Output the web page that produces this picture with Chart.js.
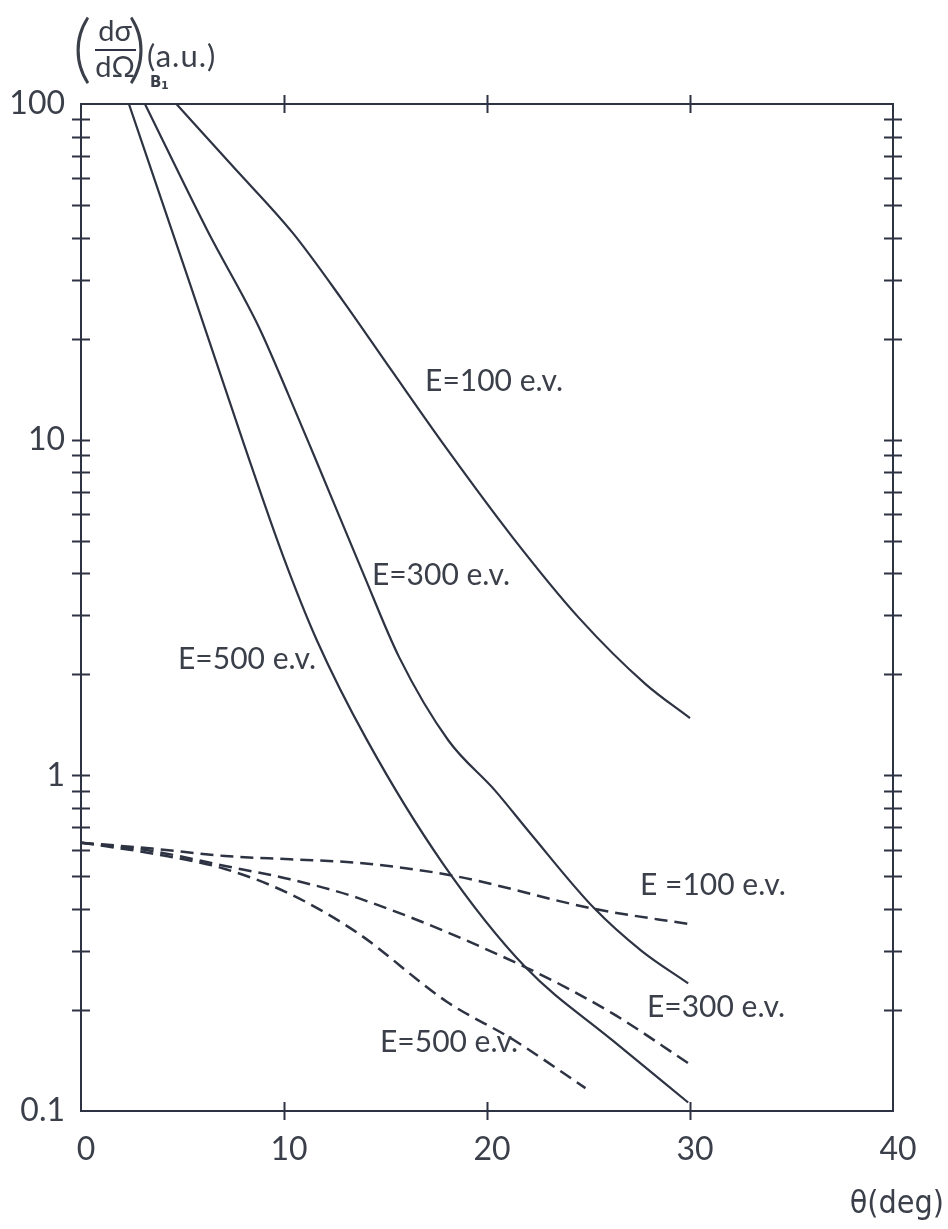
<!DOCTYPE html>
<html>
<head>
<meta charset="utf-8">
<script src="https://cdn.jsdelivr.net/npm/chart.js@4/dist/chart.umd.min.js"></script>
<style>
  html, body { margin: 0; padding: 0; background: #ffffff; }
  #wrap { width: 948px; height: 1229px; }
  canvas { display: block; }
</style>
</head>
<body>
<div id="wrap"><canvas id="chart" width="948" height="1229"></canvas></div>
<script>
// Scattering angle (deg) and cross section (a.u.) for each curve
const solid100Theta = [4.7, 7.5, 10.43, 12.87, 15.29, 17.97, 21.28, 24.54, 27.81, 30.0];
const solid100Value = [100, 65.0, 41.3, 26.1, 16.1, 9.48, 5.10, 2.94, 1.87, 1.48];

const solid300Theta = [3.15, 6.25, 8.77, 10.22, 11.47, 13.89, 15.67, 18.1, 20.39, 22.14, 25.26, 27.61, 29.91];
const solid300Value = [100, 41.7, 21.6, 13.6, 9.0, 4.01, 2.25, 1.27, 0.902, 0.671, 0.403, 0.300, 0.240];

const solid500Theta = [2.36, 5.29, 8.03, 9.96, 11.6, 14.07, 17.81, 21.9, 26.2, 29.91];
const solid500Value = [100, 30.1, 9.68, 4.49, 2.54, 1.28, 0.548, 0.268, 0.162, 0.106];

const dashed100Theta = [0, 3.5, 7.1, 10.3, 13.6, 18.2, 25.3, 30.0];
const dashed100Value = [0.63, 0.605, 0.575, 0.562, 0.549, 0.504, 0.40, 0.36];

const dashed300Theta = [0, 3.5, 7.1, 10.3, 13.6, 21.9, 26.2, 29.9];
const dashed300Value = [0.63, 0.595, 0.537, 0.490, 0.432, 0.268, 0.195, 0.139];

const dashed500Theta = [0, 3.5, 7.1, 10.3, 13.6, 18.0, 21.3, 24.85];
const dashed500Value = [0.63, 0.585, 0.526, 0.443, 0.340, 0.212, 0.163, 0.117];

// Axis ticks
const xTickValues = [0, 10, 20, 30, 40];
const xTickLabels = ['0', '10', '20', '30', '40'];
const xMarkValues = [10, 20, 30];
const yMajorValues = [0.1, 1, 10, 100];
const yMajorLabels = ['0.1', '1', '10', '100'];
const yMarkValues = [0.2, 0.3, 0.4, 0.5, 0.6, 0.7, 0.8, 0.9, 1,
                     2, 3, 4, 5, 6, 7, 8, 9, 10,
                     20, 30, 40, 50, 60, 70, 80, 90];

// Curve annotations (angle, value at the label's left/middle point)
const curveLabels = [
  { text: 'E=100 e.v.', theta: 16.95, value: 14.9 },
  { text: 'E=300 e.v.', theta: 14.33, value: 3.93 },
  { text: 'E=500 e.v.', theta: 4.78, value: 2.22 },
  { text: 'E =100 e.v.', theta: 27.54, value: 0.469 },
  { text: 'E=300 e.v.', theta: 27.88, value: 0.203 },
  { text: 'E=500 e.v.', theta: 14.73, value: 0.160 }
];

const INK = '#2d3342';
const TEXT = '#3a3f4a';

function pts(t, v) { return t.map((x, i) => ({ x: x, y: v[i] })); }

function curve(t, v, dashed) {
  return {
    data: pts(t, v),
    borderColor: INK,
    borderWidth: dashed ? 2.5 : 2.2,
    borderDash: dashed ? [13, 7] : [],
    pointRadius: 0,
    fill: false,
    cubicInterpolationMode: 'monotone'
  };
}

const framePlugin = {
  id: 'frame',
  afterDraw(chart) {
    const ctx = chart.ctx;
    const a = chart.chartArea;
    const xs = chart.scales.x, ys = chart.scales.y;
    ctx.save();
    ctx.strokeStyle = INK;
    ctx.lineWidth = 2;
    ctx.strokeRect(a.left, a.top, a.right - a.left, a.bottom - a.top);
    const h = 9;
    ctx.beginPath();
    yMarkValues.forEach(v => {
      const y = Math.round(ys.getPixelForValue(v)) + 0.5;
      ctx.moveTo(a.left - h, y); ctx.lineTo(a.left + h, y);
      ctx.moveTo(a.right - h, y); ctx.lineTo(a.right + h, y);
    });
    xMarkValues.forEach(v => {
      const x = Math.round(xs.getPixelForValue(v)) + 0.5;
      ctx.moveTo(x, a.top - h); ctx.lineTo(x, a.top + h);
      ctx.moveTo(x, a.bottom - h); ctx.lineTo(x, a.bottom + h);
    });
    ctx.stroke();

    // curve annotations
    ctx.fillStyle = TEXT;
    ctx.font = '30px Lato';
    ctx.textAlign = 'left';
    ctx.textBaseline = 'middle';
    curveLabels.forEach(l => {
      ctx.fillText(l.text, xs.getPixelForValue(l.theta), ys.getPixelForValue(l.value));
    });

    // x-axis title
    ctx.font = '32px "DejaVu Sans Condensed", "DejaVu Sans"';
    ctx.textAlign = 'right';
    ctx.fillText('θ(deg)', 944, 1205);

    // y-axis title: (dσ/dΩ)_B1 (a.u.)
    ctx.textAlign = 'center';
    ctx.font = '300 74px Lato';
    ctx.fillText('(', 82, 50);
    ctx.fillText(')', 137, 50);
    ctx.font = '29px Lato';
    ctx.fillText('dσ', 115, 32);
    ctx.fillText('dΩ', 115, 68);
    ctx.beginPath();
    ctx.lineWidth = 2;
    ctx.moveTo(95, 50); ctx.lineTo(136, 50);
    ctx.stroke();
    ctx.textAlign = 'left';
    ctx.font = 'bold 15px "DejaVu Sans"';
    ctx.fillText('B', 150, 83);
    ctx.font = 'bold 11px "DejaVu Sans"';
    ctx.fillText('1', 161, 86);
    ctx.font = '31px Lato';
    ctx.letterSpacing = '1px';
    ctx.fillText('(a.u.)', 147, 57);
    ctx.restore();
  }
};

new Chart(document.getElementById('chart'), {
  type: 'line',
  data: {
    datasets: [
      curve(solid100Theta, solid100Value, false),
      curve(solid300Theta, solid300Value, false),
      curve(solid500Theta, solid500Value, false),
      curve(dashed100Theta, dashed100Value, true),
      curve(dashed300Theta, dashed300Value, true),
      curve(dashed500Theta, dashed500Value, true)
    ]
  },
  options: {
    responsive: false,
    animation: false,
    layout: { padding: { left: 0, top: 104, right: 55, bottom: 0 } },
    plugins: { legend: { display: false }, tooltip: { enabled: false } },
    scales: {
      x: {
        type: 'linear',
        min: 0, max: 40,
        grid: { display: false },
        border: { display: false },
        afterBuildTicks: s => { s.ticks = xTickValues.map(v => ({ value: v })); },
        afterFit: s => { s.height = 118; },
        ticks: {
          color: TEXT,
          font: { family: 'Lato', size: 32 },
          padding: 11,
          labelOffset: 5,
          maxRotation: 0,
          callback: v => { const i = xTickValues.indexOf(v); return i >= 0 ? xTickLabels[i] : ''; }
        }
      },
      y: {
        type: 'logarithmic',
        min: 0.1, max: 100,
        grid: { display: false },
        border: { display: false },
        afterBuildTicks: s => { s.ticks = yMajorValues.map(v => ({ value: v })); },
        afterFit: s => { s.width = 81; },
        ticks: {
          color: TEXT,
          font: { family: 'Lato', size: 32 },
          padding: 8,
          callback: v => {
            const i = yMajorValues.findIndex(m => Math.abs(m - v) < 1e-9 * Math.max(1, m));
            return i >= 0 ? yMajorLabels[i] : '';
          }
        }
      }
    }
  },
  plugins: [framePlugin]
});
</script>
</body>
</html>
